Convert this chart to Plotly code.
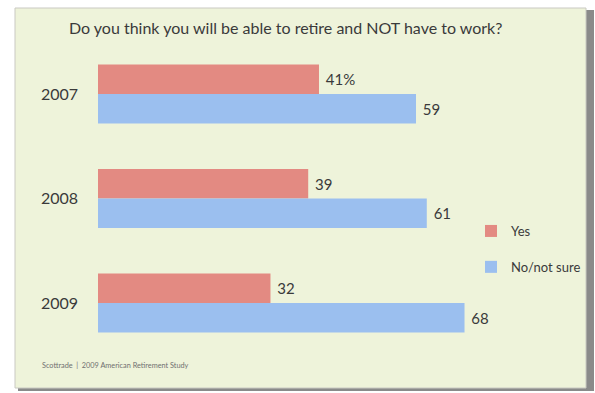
import plotly.graph_objects as go

W, H = 595, 393

years = ["2007", "2008", "2009"]
yes_vals = [41, 39, 32]
no_vals = [59, 61, 68]
series_names = ["Yes", "No/not sure"]
title_text = "Do you think you will be able to retire and NOT have to work?"
source_text = "Scottrade  |  2009 American Retirement Study"

FONT = "Lato, Liberation Sans, sans-serif"
TXT = "#3a3a3a"
RED = "#e38a82"
BLUE = "#9bbfef"


def font(size, color=TXT):
    return dict(family=FONT, size=size, color=color)


def px_x(p):
    return p / W


def px_y(p):
    return 1 - p / H


yes_text = [(" %d%%" if i == 0 else " %d") % v for i, v in enumerate(yes_vals)]
no_text = [" %d" % v for v in no_vals]

fig = go.Figure()
fig.add_trace(go.Bar(
    y=years, x=yes_vals, orientation="h", name=series_names[0],
    marker=dict(color=RED, line=dict(width=0)),
    text=yes_text, textposition="outside", cliponaxis=False,
    textfont=font(15),
    legendgroup="a",
))
fig.add_trace(go.Bar(
    y=years, x=no_vals, orientation="h", name=series_names[1],
    marker=dict(color=BLUE, line=dict(width=0)),
    text=no_text, textposition="outside", cliponaxis=False,
    textfont=font(15),
    legendgroup="b",
))

# panel with drop shadow
shapes = [
    dict(type="rect", xref="paper", yref="paper",
         x0=px_x(18), x1=px_x(594), y0=px_y(391), y1=px_y(10),
         fillcolor="#8a8a8a", line=dict(width=0), layer="below"),
    dict(type="rect", xref="paper", yref="paper",
         x0=px_x(15), x1=px_x(586), y0=px_y(388), y1=px_y(8),
         fillcolor="#eef3da", line=dict(color="#c9c9c2", width=1), layer="below"),
]

annotations = [
    dict(text=title_text, xref="paper", yref="paper",
         x=px_x(285), y=px_y(28), xanchor="center", yanchor="middle",
         showarrow=False, font=font(16)),
    dict(text=source_text, xref="paper", yref="paper",
         x=px_x(40), y=px_y(365), xanchor="left", yanchor="middle",
         showarrow=False, font=font(7.3, "#707070")),
]

fig.update_layout(
    width=W, height=H,
    margin=dict(l=0, r=0, t=0, b=0),
    paper_bgcolor="white",
    plot_bgcolor="rgba(0,0,0,0)",
    barmode="group",
    bargap=0.435,
    bargroupgap=0,
    shapes=shapes,
    annotations=annotations,
    showlegend=True,
    legend=dict(
        x=px_x(471), y=px_y(216), xanchor="left", yanchor="top",
        bgcolor="rgba(0,0,0,0)", traceorder="grouped", tracegroupgap=16,
        font=font(13),
        itemwidth=30,
    ),
    xaxis=dict(
        domain=[px_x(98), px_x(98 + 90 * 5.39)],
        range=[0, 90], visible=False, fixedrange=True, automargin=False,
    ),
    yaxis=dict(
        domain=[px_y(355.25), px_y(41.75)],
        range=[2.5, -0.5], type="category", automargin=False,
        showgrid=False, zeroline=False, showline=False, ticks="",
        ticklabelstandoff=19,
        tickfont=font(16),
    ),
)

fig.write_html("out.html")
